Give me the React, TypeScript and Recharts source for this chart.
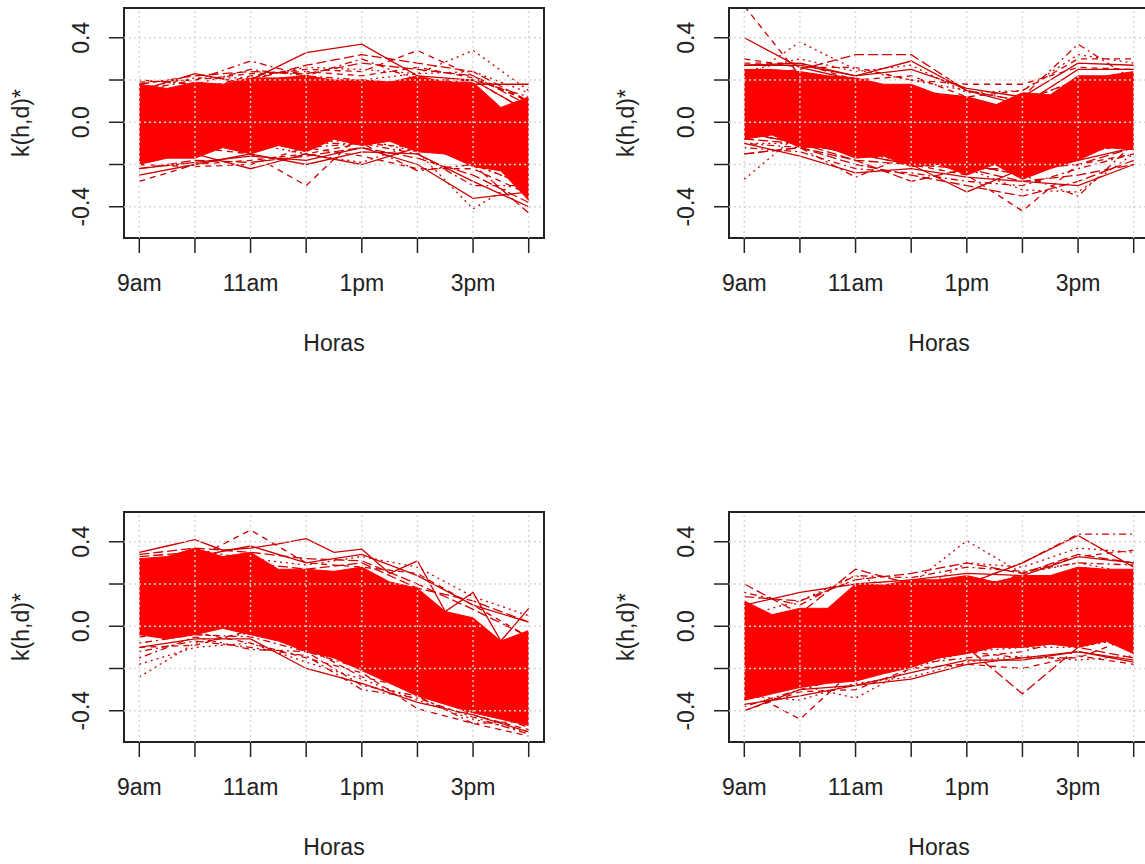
import React from "react";
import {
  Area,
  ComposedChart,
  Line,
  ReferenceArea,
  XAxis,
  YAxis,
} from "recharts";

// x positions are hours after 9am (0 = 9am ... 7 = 4pm)
const hourTicks = [0, 1, 2, 3, 4, 5, 6, 7];
const hourLabels = ["9am", "10am", "11am", "12pm", "1pm", "2pm", "3pm", "4pm"];
const yTicks = [-0.4, -0.2, 0, 0.2, 0.4];
const yLabels = ["-0.4", "", "0.0", "", "0.4"];

// dense core of each panel, read every half hour (low / high edge)
const tlHi = [0.18, 0.16, 0.19, 0.18, 0.21, 0.21, 0.22, 0.2, 0.2, 0.19, 0.22, 0.19, 0.19, 0.07, 0.12];
const tlLo = [-0.2, -0.17, -0.17, -0.12, -0.15, -0.11, -0.14, -0.08, -0.11, -0.09, -0.14, -0.15, -0.21, -0.23, -0.37];
const trHi = [0.25, 0.25, 0.24, 0.22, 0.21, 0.18, 0.18, 0.13, 0.12, 0.08, 0.14, 0.13, 0.22, 0.22, 0.24];
const trLo = [-0.08, -0.06, -0.12, -0.12, -0.17, -0.16, -0.21, -0.2, -0.25, -0.2, -0.27, -0.22, -0.18, -0.12, -0.13];
const blHi = [0.32, 0.33, 0.37, 0.33, 0.35, 0.27, 0.27, 0.26, 0.28, 0.21, 0.18, 0.07, 0.04, -0.07, -0.02];
const blLo = [-0.04, -0.06, -0.04, -0.01, -0.04, -0.07, -0.12, -0.15, -0.21, -0.27, -0.33, -0.37, -0.41, -0.44, -0.47];
const brHi = [0.12, 0.055, 0.085, 0.085, 0.2, 0.195, 0.22, 0.22, 0.24, 0.21, 0.24, 0.24, 0.28, 0.27, 0.27];
const brLo = [-0.35, -0.32, -0.29, -0.27, -0.26, -0.225, -0.195, -0.15, -0.13, -0.1, -0.1, -0.085, -0.1, -0.07, -0.13];

// individual curves that stick out of the core (hourly, or half-hourly when 15 values)
const tlCurves = [
  [0.1, 0.12, 0.2, 0.33, 0.37, 0.22, 0.2, 0.05],
  [0.12, 0.15, 0.22, 0.25, 0.24, 0.34, 0.22, 0.1],
  [0.05, 0.1, 0.15, 0.2, 0.2, 0.23, 0.34, 0.15],
  [0.15, 0.2, 0.29, 0.22, 0.2, 0.18, 0.2, 0.12],
  [0.1, 0.12, 0.2, 0.27, 0.32, 0.28, 0.24, 0.1],
  [0.15, 0.23, 0.18, 0.2, 0.18, 0.2, 0.18, 0.18],
  [-0.1, -0.12, -0.15, -0.3, -0.05, -0.1, -0.15, -0.2],
  [-0.05, -0.08, -0.1, -0.1, -0.08, -0.14, -0.41, -0.25],
  [-0.1, -0.12, -0.1, -0.12, -0.1, -0.15, -0.3, -0.3],
  [-0.05, -0.05, -0.1, -0.05, -0.05, -0.1, -0.2, -0.43],
  [-0.18, -0.15, -0.22, -0.15, -0.2, -0.12, -0.15, -0.2],
  [-0.28, -0.2, -0.18, -0.15, -0.1, -0.12, -0.15, -0.25],
  [-0.15, -0.12, -0.1, -0.15, -0.19, -0.1, -0.2, -0.3],
  [-0.1, -0.1, -0.1, -0.1, -0.1, -0.23, -0.2, -0.3],
  [0.18, 0.22, 0.24, 0.23, 0.28, 0.25, 0.22, 0.08],
  [-0.22, -0.19, -0.16, -0.18, -0.12, -0.2, -0.36, -0.33],
  [0.19, 0.2, 0.23, 0.24, 0.22, 0.26, 0.21, 0.1],
  [0.16, 0.21, 0.21, 0.26, 0.25, 0.23, 0.24, 0.14],
  [0.2, 0.18, 0.25, 0.22, 0.3, 0.2, 0.2, 0.05],
  [-0.22, -0.18, -0.19, -0.16, -0.12, -0.17, -0.25, -0.38],
  [-0.25, -0.2, -0.15, -0.2, -0.14, -0.15, -0.28, -0.4],
  [-0.2, -0.21, -0.2, -0.12, -0.16, -0.22, -0.22, -0.34],
];
const trCurves = [
  [0.4, 0.26, 0.2, 0.15, 0.12, 0.05, 0.2, 0.22],
  [0.55, 0.22, 0.18, 0.12, 0.1, 0.05, 0.15, 0.2],
  [0.2, 0.38, 0.25, 0.2, 0.15, 0.1, 0.2, 0.2],
  [0.1, 0.1, 0.05, 0.05, 0.0, 0.12, 0.37, 0.2],
  [0.22, 0.25, 0.32, 0.32, 0.15, 0.1, 0.2, 0.22],
  [0.27, 0.27, 0.22, 0.29, 0.15, 0.08, 0.25, 0.25],
  [0.28, 0.28, 0.2, 0.22, 0.12, 0.15, 0.3, 0.3],
  [-0.27, -0.05, -0.1, -0.15, -0.18, -0.2, -0.15, -0.1],
  [-0.1, -0.12, -0.26, -0.15, -0.2, -0.25, -0.15, -0.1],
  [-0.08, -0.1, -0.18, -0.28, -0.22, -0.22, -0.2, -0.12],
  [-0.05, -0.1, -0.15, -0.2, -0.33, -0.22, -0.18, -0.12],
  [-0.05, -0.1, -0.15, -0.2, -0.25, -0.42, -0.2, -0.15],
  [-0.1, -0.1, -0.15, -0.18, -0.22, -0.32, -0.33, -0.15],
  [-0.05, -0.1, -0.1, -0.15, -0.2, -0.25, -0.35, -0.1],
  [-0.15, -0.12, -0.18, -0.2, -0.22, -0.28, -0.25, -0.2],
  [0.27, 0.28, 0.22, 0.25, 0.16, 0.12, 0.28, 0.27],
  [0.3, 0.26, 0.26, 0.2, 0.18, 0.18, 0.26, 0.25],
  [0.24, 0.3, 0.24, 0.27, 0.14, 0.15, 0.32, 0.28],
  [-0.12, -0.14, -0.22, -0.24, -0.28, -0.3, -0.22, -0.15],
  [-0.15, -0.12, -0.2, -0.25, -0.3, -0.35, -0.28, -0.18],
  [-0.1, -0.16, -0.24, -0.22, -0.26, -0.28, -0.3, -0.2],
];
const blCurves = [
  [0.35, 0.38, 0.41, 0.36, 0.37, 0.39, 0.415, 0.35, 0.365, 0.25, 0.31, 0.07, 0.16, -0.07, 0.085],
  [0.3, 0.32, 0.456, 0.3, 0.28, 0.25, 0.1, -0.05],
  [-0.24, -0.08, -0.03, -0.05, -0.18, -0.25, -0.35, -0.45],
  [-0.15, -0.05, -0.11, -0.12, -0.2, -0.3, -0.38, -0.48],
  [0.33, 0.35, 0.3, 0.27, 0.3, 0.18, 0.12, 0.02],
  [-0.1, -0.06, -0.06, -0.2, -0.27, -0.36, -0.42, -0.5],
  [-0.05, -0.03, -0.08, -0.15, -0.22, -0.39, -0.46, -0.52],
  [0.28, 0.36, 0.32, 0.29, 0.33, 0.28, 0.14, 0.05],
  [-0.08, -0.04, -0.05, -0.12, -0.28, -0.33, -0.46, -0.45],
  [0.34, 0.37, 0.35, 0.32, 0.31, 0.2, 0.08, -0.05],
  [0.3, 0.33, 0.38, 0.3, 0.34, 0.24, 0.1, 0.02],
  [-0.1, -0.09, -0.02, -0.1, -0.24, -0.3, -0.42, -0.49],
  [-0.18, -0.1, -0.08, -0.17, -0.25, -0.35, -0.44, -0.5],
  [-0.12, -0.07, -0.1, -0.14, -0.3, -0.34, -0.43, -0.51],
];
const brCurves = [
  [-0.2, -0.1, 0.0, 0.1, 0.2, 0.3, 0.43, 0.28],
  [-0.3, -0.2, 0.05, 0.1, 0.15, 0.25, 0.33, 0.36],
  [0.0, 0.0, 0.1, 0.2, 0.405, 0.25, 0.3, 0.25],
  [-0.1, -0.05, 0.1, 0.15, 0.2, 0.3, 0.436, 0.436],
  [0.2, 0.06, 0.27, 0.2, 0.22, 0.2, 0.25, 0.22],
  [0.1, 0.16, 0.2, 0.22, 0.25, 0.24, 0.33, 0.3],
  [-0.3, -0.44, -0.2, -0.15, -0.1, -0.05, -0.05, -0.1],
  [-0.25, -0.28, -0.34, -0.2, -0.12, -0.1, -0.1, -0.05],
  [-0.38, -0.3, -0.23, -0.18, -0.15, -0.12, -0.05, -0.1],
  [-0.35, -0.25, -0.2, -0.15, -0.1, -0.32, -0.1, -0.15],
  [-0.4, -0.3, -0.28, -0.25, -0.18, -0.15, -0.12, -0.17],
  [-0.2, -0.22, -0.25, -0.18, -0.12, -0.15, -0.15, -0.05],
  [0.05, 0.12, 0.24, 0.15, 0.3, 0.28, 0.37, 0.35],
  [0.16, 0.1, 0.24, 0.23, 0.28, 0.26, 0.3, 0.29],
  [0.14, 0.12, 0.22, 0.25, 0.3, 0.25, 0.34, 0.3],
  [-0.37, -0.33, -0.28, -0.22, -0.16, -0.16, -0.12, -0.16],
  [-0.4, -0.31, -0.3, -0.2, -0.18, -0.2, -0.14, -0.18],
  [-0.33, -0.35, -0.27, -0.24, -0.17, -0.14, -0.16, -0.14],
];

const X_DOMAIN: [number, number] = [-0.275, 7.275];
const Y_DOMAIN: [number, number] = [-0.548, 0.541];
const FONT = "'Liberation Sans', Arial, sans-serif";
const INK = "#222";
const GRID = "#d6d6d6";
const CHART_W = 580;
const CHART_H = 370;
const MARGIN = { top: 8, right: 36, bottom: 22, left: 14 };
// matplot-style lty cycle: solid, dashed, dotted, dotdash, longdash
const DASHES = ["", "6 5", "2 4", "2 4 7 4", "10 4"];

const spread = (n: number) => (i: number) => (i * 7) / (n - 1);
const toPoints = (vals: number[]) => vals.map((v, i) => ({ x: spread(vals.length)(i), v }));
const toBand = (lo: number[], hi: number[]) =>
  lo.map((l, i) => ({ x: spread(lo.length)(i), range: [l, hi[i]] }));

// grid() lines at every tick, spanning the whole plot region
const vGrid = hourTicks.map((t) => [{ x: t, v: Y_DOMAIN[0] }, { x: t, v: Y_DOMAIN[1] }]);
const hGrid = yTicks.map((t) => [{ x: X_DOMAIN[0], v: t }, { x: X_DOMAIN[1], v: t }]);

const XTick = (p: any) => {
  const i = Math.round(p.payload.value);
  return (
    <g>
      <line x1={p.x} x2={p.x} y1={p.y} y2={p.y + 15} stroke={INK} strokeWidth={1.5} />
      {i % 2 === 0 && (
        <text x={p.x} y={p.y + 45} textAnchor="middle" dominantBaseline="central"
          fontFamily={FONT} fontSize={23} fill={INK}>
          {hourLabels[i]}
        </text>
      )}
    </g>
  );
};

const YTick = (p: any) => {
  const i = yTicks.findIndex((t) => Math.abs(t - p.payload.value) < 1e-6);
  const lx = p.x - 43;
  return (
    <g>
      <line x1={p.x - 15} x2={p.x} y1={p.y} y2={p.y} stroke={INK} strokeWidth={1.5} />
      {yLabels[i] && (
        <text x={lx} y={p.y} textAnchor="middle" dominantBaseline="central"
          transform={`rotate(-90, ${lx}, ${p.y})`} fontFamily={FONT} fontSize={23} fill={INK}>
          {yLabels[i]}
        </text>
      )}
    </g>
  );
};

const XTitle = (p: any) => {
  const vb = p.viewBox;
  return (
    <text x={vb.x + vb.width / 2} y={vb.y + 105} textAnchor="middle" dominantBaseline="central"
      fontFamily={FONT} fontSize={23} fill={INK}>
      Horas
    </text>
  );
};

const YTitle = (p: any) => {
  const vb = p.viewBox;
  const x = vb.x + vb.width - 103;
  const y = vb.y + vb.height / 2;
  return (
    <text x={x} y={y} textAnchor="middle" dominantBaseline="central"
      transform={`rotate(-90, ${x}, ${y})`} fontFamily={FONT} fontSize={23} fill={INK}>
      k(h,d)*
    </text>
  );
};

// One layer of a panel. Layers are stacked so the order matches R:
// curves, then the dense core on top of them, then grid() and the box.
const Layer = ({ left, top, z, withAxes, children }: {
  left: number; top: number; z: number; withAxes?: boolean; children: React.ReactNode;
}) => (
  <div style={{ position: "absolute", left, top, zIndex: z, pointerEvents: "none" }}>
    <ComposedChart width={CHART_W} height={CHART_H} margin={MARGIN}>
      <XAxis type="number" dataKey="x" domain={X_DOMAIN} ticks={hourTicks} interval={0}
        allowDataOverflow axisLine={false} tickLine={false} tickSize={0} tickMargin={0}
        height={110} tick={withAxes ? (p: any) => <XTick {...p} /> : false}
        label={withAxes ? { content: XTitle } : undefined} />
      <YAxis type="number" domain={Y_DOMAIN} ticks={yTicks} interval={0}
        allowDataOverflow axisLine={false} tickLine={false} tickSize={0} tickMargin={0}
        width={110} tick={withAxes ? (p: any) => <YTick {...p} /> : false}
        label={withAxes ? { content: YTitle } : undefined} />
      {children}
    </ComposedChart>
  </div>
);

const Panel = ({ left, top, lo, hi, curves }: {
  left: number; top: number; lo: number[]; hi: number[]; curves: number[][];
}) => (
  <>
    <Layer left={left} top={top} z={1} withAxes>
      {curves.map((vals, i) => (
        <Line key={i} data={toPoints(vals)} dataKey="v" type="linear" stroke="#cc0000"
          strokeWidth={1.3} strokeDasharray={DASHES[i % DASHES.length]} dot={false}
          activeDot={false} isAnimationActive={false} />
      ))}
    </Layer>
    <Layer left={left} top={top} z={2}>
      <Area data={toBand(lo, hi)} dataKey="range" type="linear" fill="#ff0000" fillOpacity={1}
        stroke="#ff0000" strokeWidth={1} isAnimationActive={false} />
    </Layer>
    <Layer left={left} top={top} z={3}>
      {[...vGrid, ...hGrid].map((pts, i) => (
        <Line key={"g" + i} data={pts} dataKey="v" type="linear" stroke={GRID} strokeWidth={1.4}
          strokeDasharray="2 3" dot={false} activeDot={false} isAnimationActive={false} />
      ))}
      <ReferenceArea x1={X_DOMAIN[0]} x2={X_DOMAIN[1]} y1={Y_DOMAIN[0]} y2={Y_DOMAIN[1]}
        fill="none" fillOpacity={0} stroke={INK} strokeWidth={2} ifOverflow="visible" />
    </Layer>
  </>
);

export default function App() {
  return (
    <div style={{ position: "absolute", left: 0, top: 0, width: 1145, height: 864, overflow: "hidden", background: "#fff" }}>
      <Panel left={0} top={0} lo={tlLo} hi={tlHi} curves={tlCurves} />
      <Panel left={605} top={0} lo={trLo} hi={trHi} curves={trCurves} />
      <Panel left={0} top={504} lo={blLo} hi={blHi} curves={blCurves} />
      <Panel left={605} top={504} lo={brLo} hi={brHi} curves={brCurves} />
    </div>
  );
}
